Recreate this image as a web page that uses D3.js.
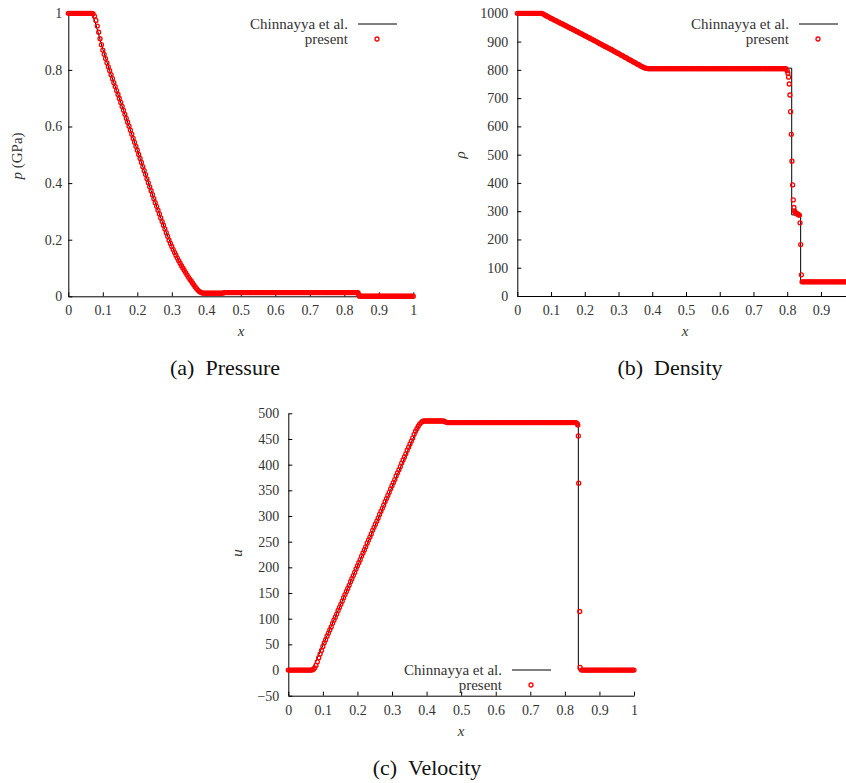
<!DOCTYPE html>
<html>
<head>
<meta charset="utf-8">
<script src="https://cdn.jsdelivr.net/npm/d3@7"></script>
<style>
  body { margin: 0; background: #fff; }
  svg { display: block; }
  text { font-family: "Liberation Serif", "Times New Roman", serif; }
</style>
</head>
<body>
<svg id="fig" width="846" height="783"></svg>
<script>
// ---- cell centres of the mesh (uniform spacing 0.004) ----
const meshX = d3.range(251).map(i => +(i * 0.004).toFixed(3));

// ---- present scheme: pressure (GPa) on the mesh ----
const pressure = [
  1,1,1,1,1,1,1,1,1,1,
  1,1,1,1,1,1,1,1,
  0.998,0.990,0.975,0.955,0.933,0.910,0.889,0.870,0.855,0.840,
  0.825,0.811,0.797,0.783,0.769,0.755,0.741,0.727,0.713,0.699,
  0.685,0.671,0.657,0.643,0.629,0.615,0.601,0.587,0.573,0.558,
  0.544,0.530,0.516,0.501,0.487,0.473,0.458,0.444,0.430,0.415,
  0.401,0.387,0.373,0.359,0.345,0.331,0.318,0.304,0.291,0.277,
  0.264,0.251,0.238,0.225,0.212,0.198,0.187,0.176,0.165,0.155,
  0.145,0.135,0.126,0.117,0.108,0.100,0.092,0.084,0.076,0.068,
  0.061,0.054,0.047,0.040,0.033,0.027,0.021,0.017,0.014,0.012,
  0.011,0.011,0.011,0.011,0.011,0.011,0.011,0.011,0.011,0.011,
  0.011,0.011,0.011,0.011,0.011,
  0.013,0.013,0.013,0.013,0.013,0.013,0.013,0.013,0.013,0.013,
  0.013,0.013,0.013,0.013,0.013,0.013,0.013,0.013,0.013,0.013,
  0.013,0.013,0.013,0.013,0.013,0.013,0.013,0.013,0.013,0.013,
  0.013,0.013,0.013,0.013,0.013,0.013,0.013,0.013,0.013,0.013,
  0.013,0.013,0.013,0.013,0.013,0.013,0.013,0.013,0.013,0.013,
  0.013,0.013,0.013,0.013,0.013,0.013,0.013,0.013,0.013,0.013,
  0.013,0.013,0.013,0.013,0.013,0.013,0.013,0.013,0.013,0.013,
  0.013,0.013,0.013,0.013,0.013,0.013,0.013,0.013,0.013,0.013,
  0.013,0.013,0.013,0.013,0.013,0.013,0.013,0.013,0.013,0.013,
  0.013,0.013,0.013,0.013,0.013,0.013,0.013,
  0.012,0.0003,
  0.0001,0.0001,0.0001,0.0001,0.0001,0.0001,0.0001,0.0001,0.0001,0.0001,
  0.0001,0.0001,0.0001,0.0001,0.0001,0.0001,0.0001,0.0001,0.0001,0.0001,
  0.0001,0.0001,0.0001,0.0001,0.0001,0.0001,0.0001,0.0001,0.0001,0.0001,
  0.0001,0.0001,0.0001,0.0001,0.0001,0.0001,0.0001,0.0001,0.0001
];
// extra cells resolved inside the shock
const pressureShockX = [0.838, 0.842];
const pressureShock  = [0.013, 0.006];

// ---- present scheme: density on the mesh ----
const density = [
  1000,1000,1000,1000,1000,1000,1000,1000,1000,1000,
  1000,1000,1000,1000,1000,1000,1000,1000,
  999.5,998,995.5,992.5,990,987.5,985,982,980,977,
  975,973,970,968,965,963,961,958,956,953,
  951,948,946,944,941,939,936,934,931,929,
  926,924,921,919,916,914,911,909,906,904,
  901,899,896,893,891,888,886,883,881,878,
  876,873,871,868,865,863,860,858,855,852,
  850,847,844,842,839,836,834,831,828,826,
  823,820,818,815,812,810,808,806,805,804,
  804,804,804,804,804,804,804,804,804,804,
  804,804,804,804,804,804,804,804,804,804,
  804,804,804,804,804,804,804,804,804,804,
  804,804,804,804,804,804,804,804,804,804,
  804,804,804,804,804,804,804,804,804,804,
  804,804,804,804,804,804,804,804,804,804,
  804,804,804,804,804,804,804,804,804,804,
  804,804,804,804,804,804,804,804,804,804,
  804,804,804,804,804,804,804,804,804,804,
  804,804,804,804,804,804,804,804,804,804,
  804,804,
  797,774,711,572,393,313,296,291,289,286,
  182,50,
  50,50,50,50,50,50,50,50,50,50,
  50,50,50,50,50,50,50,50,50,50,
  50,50,50,50,50,50,50,50,50,50,
  50,50,50,50,50,50,50,50,50
];
// extra cells resolved across the contact and the shock
const densityJumpX = [0.802, 0.806, 0.810, 0.814, 0.818, 0.822, 0.826, 0.830, 0.834, 0.838, 0.842];
const densityJump  = [788, 750, 652, 477, 340, 300, 293, 290, 287, 259, 75];

// ---- present scheme: velocity on the mesh ----
const velocity = [
  0,0,0,0,0,0,0,0,0,0,
  0,0,0,0,0,0,0,0,
  1,4,9,16,24,31,38,46,53,59,
  66,72,78,84,91,97,103,109,116,122,
  128,134,141,147,153,159,165,172,178,184,
  190,197,203,209,215,222,228,234,240,247,
  253,259,265,272,278,284,290,296,303,309,
  315,321,328,334,340,346,353,359,365,371,
  378,384,390,396,403,409,415,421,428,434,
  440,446,452,459,465,470,475,479,482,484,
  485,485,485,485,485,485,485,485,485,485,
  485,485,485,485,485,
  484,483,
  482,482,482,482,482,482,482,482,482,482,
  482,482,482,482,482,482,482,482,482,482,
  482,482,482,482,482,482,482,482,482,482,
  482,482,482,482,482,482,482,482,482,482,
  482,482,482,482,482,482,482,482,482,482,
  482,482,482,482,482,482,482,482,482,482,
  482,482,482,482,482,482,482,482,482,482,
  482,482,482,482,482,482,482,482,482,482,
  482,482,482,482,482,482,482,482,482,482,
  482,482,482,482,
  480,364,5,
  0,0,0,0,0,0,0,0,0,0,
  0,0,0,0,0,0,0,0,0,0,
  0,0,0,0,0,0,0,0,0,0,
  0,0,0,0,0,0,0,0,0
];
const velocityShockX = [0.8375, 0.839, 0.843];
const velocityShock  = [477, 456, 114];

// ---- Chinnayya et al. reference solution ----
const pressureRefX = [0, 0.069, 0.08, 0.10, 0.12, 0.14, 0.16, 0.18, 0.20, 0.22, 0.24, 0.26, 0.28, 0.30, 0.32, 0.34, 0.36, 0.38, 0.8392, 0.8392, 1];
const pressureRef  = [1, 1, 0.960, 0.873, 0.797, 0.727, 0.657, 0.587, 0.516, 0.444, 0.373, 0.304, 0.238, 0.176, 0.126, 0.084, 0.047, 0.0125, 0.0125, 0.0001, 0.0001];
const densityRefX  = [0, 0.069, 0.10, 0.20, 0.30, 0.38, 0.8133, 0.8133, 0.8398, 0.8398, 1];
const densityRef   = [1000, 1000, 982, 921, 858, 806, 806, 287, 287, 50, 50];
const velocityRefX = [0, 0.069, 0.381, 0.839, 0.839, 1];
const velocityRef  = [0, 0, 482, 482, 0, 0];

// ---- ticks ----
const xTickValues = [0, 0.1, 0.2, 0.3, 0.4, 0.5, 0.6, 0.7, 0.8, 0.9, 1];
const densityXTickValues = [0, 0.1, 0.2, 0.3, 0.4, 0.5, 0.6, 0.7, 0.8, 0.9];
const pressureTicks = [0, 0.2, 0.4, 0.6, 0.8, 1];
const densityTicks = [0, 100, 200, 300, 400, 500, 600, 700, 800, 900, 1000];
const velocityTicks = [-50, 0, 50, 100, 150, 200, 250, 300, 350, 400, 450, 500];

const legendNames = ["Chinnayya et al.", "present"];

const FONT = '"Liberation Serif", "Times New Roman", serif';
const MARK = { r: 2, stroke: "#ff0000", width: 1.3 };

const svg = d3.select("#fig");
svg.append("rect").attr("width", 846).attr("height", 783).attr("fill", "#fff");

const fmt = d => d < 0 ? "\u2212" + Math.abs(d) : String(d);

function zip(xs, vs) { return xs.map((xv, i) => [xv, vs[i]]); }

function drawPanel(cfg) {
  const g = svg.append("g").attr("font-family", FONT);
  const x = d3.scaleLinear().domain([0, 1]).range(cfg.xRange);
  const y = d3.scaleLinear().domain(cfg.yDomain).range(cfg.yRange);

  const xAxis = d3.axisBottom(x).tickValues(cfg.xTicks).tickFormat(fmt)
    .tickSize(-4).tickSizeOuter(0).tickPadding(9);
  const yAxis = d3.axisLeft(y).tickValues(cfg.yTicks).tickFormat(fmt)
    .tickSize(-4).tickSizeOuter(0).tickPadding(cfg.yPad);

  const gx = g.append("g").attr("transform", `translate(0,${cfg.yRange[0]})`).call(xAxis);
  const gy = g.append("g").attr("transform", `translate(${cfg.xRange[0]},0)`).call(yAxis);
  [gx, gy].forEach(a => {
    a.attr("font-family", FONT).attr("font-size", 14);
    a.selectAll("path, line").attr("stroke", "#000").attr("stroke-width", 1);
    a.selectAll("text").attr("fill", "#333");
  });

  // reference solution
  const line = d3.line().x(d => x(d[0])).y(d => y(d[1]));
  g.append("path").datum(zip(cfg.refX, cfg.ref))
    .attr("d", line).attr("fill", "none").attr("stroke", "#000").attr("stroke-width", 1);

  // present scheme
  const pts = zip(meshX, cfg.values).concat(zip(cfg.extraX, cfg.extra));
  g.append("g").selectAll("circle").data(pts).join("circle")
    .attr("cx", d => x(d[0])).attr("cy", d => y(d[1])).attr("r", MARK.r)
    .attr("fill", "none").attr("stroke", MARK.stroke).attr("stroke-width", MARK.width);

  // legend
  const L = cfg.legend;
  const lg = g.append("g").attr("font-size", 15).attr("fill", "#333");
  lg.append("text").attr("x", L.x).attr("y", L.y + 5).attr("text-anchor", "end").text(legendNames[0]);
  lg.append("line").attr("x1", L.x + 10).attr("x2", L.x + 49).attr("y1", L.y).attr("y2", L.y)
    .attr("stroke", "#000").attr("stroke-width", 1);
  lg.append("text").attr("x", L.x).attr("y", L.y + 20).attr("text-anchor", "end").text(legendNames[1]);
  lg.append("circle").attr("cx", L.x + 29).attr("cy", L.y + 15).attr("r", MARK.r)
    .attr("fill", "none").attr("stroke", MARK.stroke).attr("stroke-width", MARK.width);

  // axis titles
  g.append("text").attr("x", cfg.xLabelX).attr("y", cfg.yRange[0] + 40)
    .attr("text-anchor", "middle").attr("font-size", 15).attr("font-style", "italic")
    .attr("fill", "#333").text("x");
  const yt = g.append("text").attr("transform", `translate(${cfg.yLabel.x},${cfg.yLabel.y}) rotate(-90)`)
    .attr("text-anchor", "middle").attr("font-size", 15).attr("fill", "#333");
  yt.append("tspan").attr("font-style", "italic").text(cfg.yLabel.sym);
  if (cfg.yLabel.unit) yt.append("tspan").text(cfg.yLabel.unit);

  // caption
  g.append("text").attr("x", cfg.caption.x).attr("y", cfg.caption.y)
    .attr("text-anchor", "middle").attr("font-size", 22).attr("fill", "#111")
    .text(cfg.caption.text);
}

drawPanel({
  xRange: [68.3, 413.3], yRange: [296.3, 13.3], yDomain: [0, 1],
  xTicks: xTickValues, yTicks: pressureTicks, yPad: 6,
  values: pressure, extraX: pressureShockX, extra: pressureShock,
  refX: pressureRefX, ref: pressureRef,
  legend: { x: 348, y: 24 }, xLabelX: 241,
  yLabel: { x: 22, y: 156, sym: "p", unit: " (GPa)" },
  caption: { x: 225, y: 375, text: "(a)\u00a0\u00a0Pressure" }
});

drawPanel({
  xRange: [517.3, 854.7], yRange: [296, 13.3], yDomain: [0, 1000],
  xTicks: densityXTickValues, yTicks: densityTicks, yPad: 9,
  values: density, extraX: densityJumpX, extra: densityJump,
  refX: densityRefX, ref: densityRef,
  legend: { x: 789, y: 24 }, xLabelX: 685,
  yLabel: { x: 465, y: 155, sym: "\u03c1" },
  caption: { x: 670, y: 375, text: "(b)\u00a0\u00a0Density" }
});

drawPanel({
  xRange: [288.3, 634], yRange: [695.7, 413.3], yDomain: [-50, 500],
  xTicks: xTickValues, yTicks: velocityTicks, yPad: 9,
  values: velocity, extraX: velocityShockX, extra: velocityShock,
  refX: velocityRefX, ref: velocityRef,
  legend: { x: 502, y: 670 }, xLabelX: 461,
  yLabel: { x: 242, y: 553, sym: "u" },
  caption: { x: 427, y: 775, text: "(c)\u00a0\u00a0Velocity" }
});
</script>
</body>
</html>
